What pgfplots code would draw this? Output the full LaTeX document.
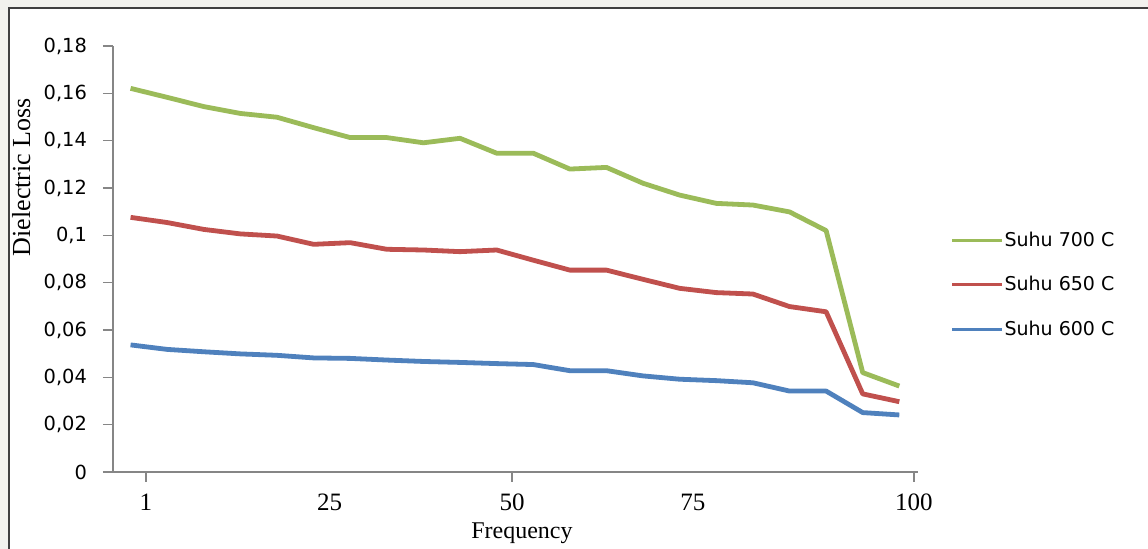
\documentclass[border=0pt]{standalone}
\usepackage{pgfplots}
\pgfplotsset{compat=1.18}
\usepackage{pgfplotstable}
\usepackage{fontspec}
\setmainfont{Liberation Serif}
\newfontfamily\dejavu{DejaVu Sans}
\definecolor{cgreen}{HTML}{9BBB59}
\definecolor{cred}{HTML}{C0504D}
\definecolor{cblue}{HTML}{4F81BD}
\definecolor{axgray}{HTML}{868686}
\definecolor{bggray}{HTML}{F2F2EE}
\definecolor{framec}{HTML}{404040}

\pgfplotstableread{
i  s700   s650   s600
0  0.1621 0.1076 0.0537
1  0.1583 0.1054 0.0518
2  0.1544 0.1025 0.0508
3  0.1515 0.1006 0.0499
4  0.1499 0.0997 0.0493
5  0.1455 0.0962 0.0482
6  0.1413 0.0969 0.0480
7  0.1413 0.0941 0.0473
8  0.1391 0.0938 0.0467
9  0.1410 0.0931 0.0463
10 0.1347 0.0938 0.0458
11 0.1347 0.0895 0.0454
12 0.1280 0.0853 0.0428
13 0.1287 0.0853 0.0428
14 0.1220 0.0814 0.0406
15 0.1170 0.0776 0.0392
16 0.1135 0.0758 0.0386
17 0.1128 0.0752 0.0377
18 0.1099 0.0699 0.0342
19 0.1020 0.0677 0.0342
20 0.0420 0.0330 0.0251
21 0.0363 0.0297 0.0241
}\datatable

\begin{document}
\begin{tikzpicture}
\useasboundingbox (0,0) rectangle (574pt,-274.5pt);
\clip (0,0) rectangle (574pt,-274.5pt);
\fill[bggray] (0,0) rectangle (574pt,-274.5pt);
\filldraw[fill=white, draw=framec, line width=1pt] (4.5pt,-4pt) rectangle (600pt,-300pt);
\begin{axis}[
  at={(56.5pt,-236pt)}, anchor=south west,
  scale only axis, width=402.5pt, height=213pt,
  xmin=-0.48, xmax=21.51, ymin=0, ymax=0.18,
  axis x line=bottom, axis y line=left,
  axis line style={axgray, line width=0.75pt, -},
  tick style={axgray, line width=0.75pt},
  tick align=outside, major tick length=5pt,
  ytick={0,0.02,0.04,0.06,0.08,0.1,0.12,0.14,0.16,0.18},
  /pgf/number format/assume math mode=true,
  /pgf/number format/use comma,
  /pgf/number format/fixed,
  /pgf/number format/precision=2,
  yticklabel style={font=\dejavu\fontsize{9.7}{11}\selectfont, text=black, xshift=-4.5pt},
  xtick={0.42,10.42,21.40}, xticklabels={1,50,100},
  extra x ticks={5.44,15.36}, extra x tick labels={25,75},
  extra x tick style={tick style={draw=none}},
  xticklabel style={font=\fontsize{12.5}{14}\selectfont, text=black, yshift=-2.5pt},
  xlabel={Frequency},
  xlabel style={at={(axis description cs:0.508,-0.143)}, anchor=center, font=\fontsize{12}{14}\selectfont},
  ylabel={Dielectric Loss},
  ylabel style={at={(axis description cs:-0.114,0.692)}, anchor=center, font=\fontsize{13}{15}\selectfont},
  legend style={at={(axis description cs:1.04,0.439)}, anchor=west, draw=none, fill=none,
    font=\dejavu\fontsize{9.5}{11}\selectfont, row sep=12.5pt, inner sep=0pt, nodes={inner sep=0.5pt}},
  legend cell align=left,
  legend image code/.code={\draw[#1, line width=1.5pt] (0pt,0pt) -- (25pt,0pt);},
]
\addplot[cgreen, line width=2.4pt, line join=round] table[x=i, y=s700] {\datatable};
\addlegendentry{Suhu 700 C}
\addplot[cred, line width=2.4pt, line join=round] table[x=i, y=s650] {\datatable};
\addlegendentry{Suhu 650 C}
\addplot[cblue, line width=2.4pt, line join=round] table[x=i, y=s600] {\datatable};
\addlegendentry{Suhu 600 C}
\end{axis}
\end{tikzpicture}
\end{document}
